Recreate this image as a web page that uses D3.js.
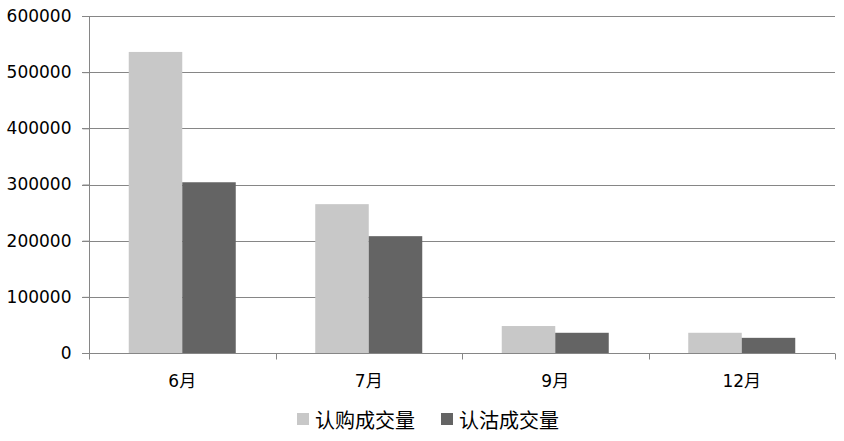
<!DOCTYPE html>
<html><head><meta charset="utf-8">
<script src="https://cdn.jsdelivr.net/npm/d3@7"></script>
<style>body{margin:0;background:#fff}svg{display:block}</style>
</head><body>
<svg id="c" width="844" height="441"></svg>
<script>
const categories = ["6月", "7月", "9月", "12月"];
const seriesNames = ["认购成交量", "认沽成交量"];
const callVolume = [536000, 265000, 48000, 36000];
const putVolume = [304000, 208000, 36000, 27000];
const yTicks = [0, 100000, 200000, 300000, 400000, 500000, 600000];
const colors = ["#C8C8C8", "#646464"];

(function () {
const svg = d3.select("#c");
const pLeft = 89, pRight = 835, pTop = 16, pBottom = 353;
const x = d3.scaleBand().domain(categories).range([pLeft, pRight]).paddingInner(0).paddingOuter(0);
const x1 = d3.scaleBand().domain(seriesNames).range([0, x.bandwidth()]).paddingInner(0).paddingOuter(0.743);
const y = d3.scaleLinear().domain([0, 600000]).range([pBottom, pTop]);
const gridColor = "#868686";

// gridlines
svg.append("g").selectAll("line").data(yTicks.filter(d => d > 0)).join("line")
  .attr("x1", pLeft - 7).attr("x2", pRight)
  .attr("y1", d => Math.round(y(d)) + 0.5).attr("y2", d => Math.round(y(d)) + 0.5)
  .attr("stroke", gridColor).attr("stroke-width", 1);

// bars
const data = categories.map((c, i) => ({c, vals: [callVolume[i], putVolume[i]]}));
const g = svg.append("g");
data.forEach(d => {
  d.vals.forEach((v, j) => {
    g.append("rect")
      .attr("x", x(d.c) + x1(seriesNames[j]))
      .attr("width", x1.bandwidth())
      .attr("y", y(v)).attr("height", y(0) - y(v))
      .attr("fill", colors[j]);
  });
});

// y axis
const yAxis = d3.axisLeft(y).tickValues(yTicks).tickSize(7).tickPadding(11).tickFormat(d3.format("d"));
const ya = svg.append("g").attr("transform", `translate(${pLeft + 0.5},0)`).call(yAxis);
ya.select(".domain").attr("stroke", gridColor).attr("d", `M0,${pTop}V${pBottom + 0.5}`);
ya.selectAll(".tick line").attr("stroke", gridColor);
ya.selectAll("text").attr("font-family", "DejaVu Sans").attr("font-size", 17).attr("fill", "#000");

// x axis
const xa = svg.append("g").attr("transform", `translate(0,${pBottom + 0.5})`);
xa.append("line").attr("x1", pLeft - 7).attr("x2", pRight).attr("stroke", gridColor);
const bounds = categories.map(c => x(c)).concat([pRight]);
xa.selectAll(".tk").data(bounds).join("line").attr("class", "tk")
  .attr("x1", d => Math.round(d) + 0.5).attr("x2", d => Math.round(d) + 0.5)
  .attr("y1", 0).attr("y2", 6).attr("stroke", gridColor);
xa.selectAll("text").data(categories).join("text")
  .attr("x", d => x(d) + x.bandwidth() / 2).attr("y", 33)
  .attr("text-anchor", "middle").attr("font-family", "DejaVu Sans, Noto Sans CJK SC").attr("font-size", 17)
  .text(d => d);

// legend
const legendX = [297, 441];
seriesNames.forEach((s, j) => {
  svg.append("rect").attr("x", legendX[j]).attr("y", 413).attr("width", 12).attr("height", 12).attr("fill", colors[j]);
  svg.append("text").attr("x", legendX[j] + 18).attr("y", 428)
    .attr("font-family", "Noto Sans CJK SC").attr("font-size", 20).text(s);
});
})();
</script>
</body></html>
